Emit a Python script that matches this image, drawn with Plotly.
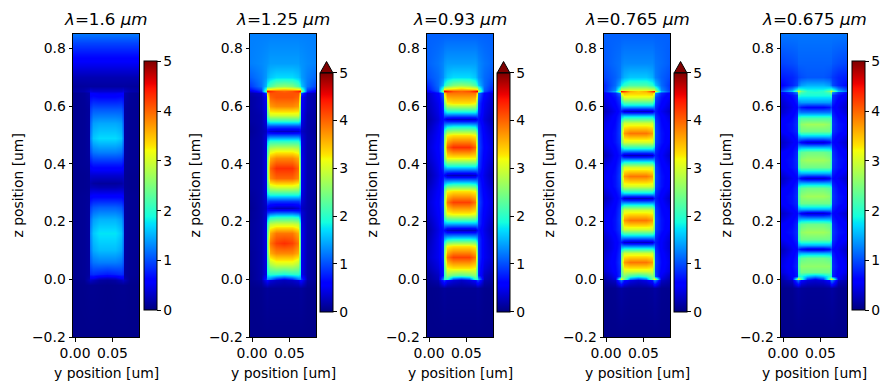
import plotly.graph_objects as go

TITLES = ["1.6", "1.25", "0.93", "0.765", "0.675"]
Y_POS = [-0.0027, 0.012, 0.0200, 0.0206, 0.0235, 0.032, 0.0425, 0.053, 0.0615, 0.0644, 0.065, 0.073, 0.0877]
TICK_Z = [-0.2, 0.0, 0.2, 0.4, 0.6, 0.8]
TICK_Y = [0.0, 0.05]
TICK_C = [0, 1, 2, 3, 4, 5]

# z position, then half of a row (outer edge -> ridge centre)
P1 = [
 (-.20,[.05,.05,.05,.05,.05,.05,.05]),(-.02,[.05,.06,.08,.08,.08,.07,.06]),(-.002,[.06,.08,.25,.3,.25,.15,.12]),
 (.003,[.06,.09,.2,.5,.5,.35,.3]),(.02,[.07,.1,.15,.8,.85,.8,.75]),(.06,[.07,.1,.15,1.05,1.2,1.25,1.25]),
 (.10,[.08,.1,.15,1.2,1.45,1.55,1.55]),(.16,[.08,.1,.15,1.3,1.6,1.75,1.75]),(.21,[.08,.1,.15,1.15,1.4,1.5,1.5]),
 (.25,[.08,.1,.14,.9,1.05,1.1,1.1]),(.29,[.08,.1,.12,.55,.6,.6,.6]),(.32,[.07,.08,.1,.25,.25,.22,.22]),
 (.335,[.07,.08,.1,.2,.15,.13,.13]),(.36,[.07,.08,.1,.35,.35,.35,.35]),(.40,[.08,.1,.12,.65,.75,.75,.75]),
 (.44,[.08,.1,.15,1.0,1.2,1.25,1.25]),(.49,[.08,.1,.15,1.25,1.6,1.7,1.7]),(.54,[.08,.1,.15,1.1,1.4,1.45,1.45]),
 (.59,[.08,.1,.14,.9,1.05,1.05,1.05]),(.645,[.08,.12,.2,.55,.55,.5,.5]),(.652,[.15,.2,.3,.4,.35,.35,.35]),
 (.67,[.12,.13,.14,.14,.14,.14,.14]),(.70,[.22,.22,.22,.22,.22,.22,.22]),(.74,[.45,.45,.45,.45,.45,.45,.45]),
 (.78,[.7,.7,.7,.7,.7,.7,.7]),(.82,[.95,.95,.95,.95,.95,.95,.95]),(.85,[1.2,1.2,1.2,1.2,1.2,1.2,1.2]),
]
P2 = [
 (-.20,[.05,.05,.05,.05,.05,.05,.05]),(-.03,[.05,.07,.12,.12,.1,.1,.1]),(-.003,[.08,.15,.6,.6,.4,.3,.25]),
 (.002,[.08,.2,.9,1.3,1.2,.8,.6]),(.02,[.08,.2,.5,1.8,2.0,2.0,1.9]),(.053,[.1,.2,.5,2.0,2.8,3.0,3.0]),
 (.09,[.1,.2,.5,2.2,3.6,3.8,3.8]),(.125,[.12,.2,.5,2.3,3.9,4.2,4.3]),(.16,[.12,.2,.5,2.2,3.6,3.9,3.9]),
 (.19,[.12,.2,.45,2.0,2.9,3.0,3.0]),(.215,[.1,.2,.4,1.4,1.9,2.0,2.0]),(.232,[.1,.2,.4,.8,.9,1.0,1.0]),
 (.247,[.08,.2,.3,.5,.35,.25,.25]),(.27,[.1,.2,.4,1.0,.9,.9,.9]),(.296,[.12,.2,.45,1.7,2.0,2.0,2.0]),
 (.319,[.15,.2,.5,2.1,2.9,3.0,3.0]),(.35,[.15,.2,.5,2.3,3.8,4.0,4.0]),(.385,[.15,.2,.5,2.4,4.0,4.3,4.3]),
 (.42,[.15,.2,.5,2.3,3.6,3.8,3.8]),(.451,[.15,.2,.45,2.0,2.9,3.0,3.0]),(.48,[.15,.2,.45,1.6,2.0,2.0,2.0]),
 (.50,[.12,.2,.4,.9,1.0,1.0,1.0]),(.515,[.1,.2,.3,.5,.35,.3,.3]),(.53,[.12,.2,.4,1.0,1.0,1.0,1.0]),
 (.55,[.15,.2,.45,1.7,2.0,2.0,2.0]),(.57,[.15,.2,.5,2.2,3.0,3.0,3.0]),(.60,[.15,.25,.55,2.5,3.7,3.8,3.8]),
 (.63,[.15,.25,.6,2.9,4.0,4.1,4.1]),(.646,[.2,.3,1.0,3.4,4.1,4.1,4.1]),(.652,[.4,.8,2.8,4.5,4.3,4.1,4.0]),
 (.658,[.7,1.0,2.3,3.1,3.2,3.3,3.4]),(.67,[.9,1.2,1.6,1.9,2.2,2.5,2.6]),(.70,[1.1,1.25,1.4,1.5,1.6,1.7,1.7]),
 (.75,[1.25,1.3,1.35,1.35,1.4,1.4,1.4]),(.85,[1.25,1.25,1.25,1.25,1.25,1.25,1.25]),
]
P3 = [
 (-.20,[.05,.05,.05,.05,.05,.05,.05]),(-.03,[.05,.07,.12,.12,.1,.1,.1]),(-.003,[.1,.2,.9,.9,.55,.4,.3]),
 (.002,[.1,.25,1.5,2,2,1,.8]),(.015,[.12,.3,.8,2.0,2.6,2.4,2.3]),(.04,[.2,.4,.8,2.2,3.2,3.3,3.3]),
 (.078,[.3,.5,.9,2.5,3.9,4.2,4.2]),(.115,[.25,.5,.9,2.3,3.2,3.3,3.3]),(.14,[.2,.5,.9,1.5,1.8,1.9,1.9]),
 (.171,[.15,.45,.7,.6,.3,.25,.25]),(.195,[.2,.5,.9,1.5,1.6,1.6,1.6]),(.225,[.3,.55,.9,2.4,3.1,3.2,3.2]),
 (.267,[.35,.6,1,2.6,3.9,4.2,4.2]),(.305,[.3,.55,.9,2.4,3.2,3.3,3.3]),(.335,[.2,.5,.85,1.5,1.7,1.8,1.8]),
 (.362,[.15,.45,.7,.6,.3,.25,.25]),(.39,[.2,.5,.9,1.5,1.7,1.7,1.7]),(.42,[.3,.55,.95,2.4,3.2,3.2,3.2]),
 (.46,[.35,.6,1,2.6,4,4.3,4.3]),(.50,[.3,.55,.95,2.4,3.2,3.3,3.3]),(.53,[.2,.5,.85,1.4,1.7,1.8,1.8]),
 (.555,[.15,.4,.7,.6,.35,.3,.3]),(.58,[.2,.45,.85,1.5,1.8,1.8,1.8]),(.61,[.25,.5,.9,2.4,3.2,3.3,3.3]),
 (.645,[.3,.6,1.2,3.3,3.9,3.9,3.9]),(.651,[.5,1,3,4.6,4.4,4.1,4.0]),(.658,[.7,1.1,2.5,3.2,3.3,3.4,3.5]),
 (.672,[.8,1.15,1.6,1.9,2.2,2.5,2.6]),(.70,[1,1.15,1.35,1.45,1.6,1.7,1.7]),(.75,[1.1,1.2,1.3,1.35,1.4,1.4,1.4]),
 (.85,[1.1,1.1,1.1,1.1,1.1,1.1,1.1]),
]
P4 = [
 (-.20,[.05,.05,.05,.05,.05,.05,.05]),(-.03,[.06,.08,.15,.15,.12,.1,.1]),(-.003,[.15,.3,1.2,1.2,.7,.45,.35]),
 (.002,[.15,.4,2.8,3.2,2.4,1.2,.9]),(.012,[.2,.5,1.0,2.2,2.5,2.1,1.9]),(.03,[.35,.6,.9,2.3,3.0,3.0,3.0]),
 (.059,[.4,.65,.95,2.5,3.7,3.9,3.9]),(.09,[.35,.6,.9,2.3,3.0,3.0,3.0]),(.11,[.3,.55,.85,1.6,1.8,1.8,1.8]),
 (.13,[.3,.55,.75,.7,.35,.3,.3]),(.15,[.35,.6,.85,1.5,1.6,1.6,1.6]),(.175,[.45,.7,.95,2.4,3.0,3.0,3.0]),
 (.207,[.5,.7,1,2.5,3.7,3.9,3.9]),(.24,[.45,.65,.95,2.3,3.0,3.0,3.0]),(.26,[.35,.6,.85,1.5,1.7,1.7,1.7]),
 (.28,[.25,.55,.75,.7,.3,.25,.25]),(.30,[.35,.6,.85,1.5,1.7,1.7,1.7]),(.325,[.45,.7,.95,2.4,3.0,3.0,3.0]),
 (.357,[.5,.7,1,2.5,3.7,3.9,3.9]),(.39,[.45,.65,.95,2.3,3.0,3.0,3.0]),(.41,[.35,.6,.85,1.5,1.7,1.7,1.7]),
 (.43,[.25,.55,.75,.7,.3,.25,.25]),(.45,[.35,.6,.85,1.5,1.7,1.7,1.7]),(.475,[.45,.7,.95,2.4,3.0,3.0,3.0]),
 (.506,[.5,.7,1,2.5,3.7,3.9,3.9]),(.54,[.45,.65,.95,2.3,3.0,3.0,3.0]),(.565,[.35,.6,.85,1.5,1.7,1.7,1.7]),
 (.584,[.25,.5,.75,.7,.35,.3,.3]),(.605,[.35,.6,.85,1.5,1.8,1.8,1.8]),(.63,[.45,.7,1.0,2.4,3.1,3.1,3.1]),
 (.645,[.5,.8,1.3,3.2,3.5,3.4,3.4]),(.651,[.8,1.5,3.2,4.5,4.2,3.6,3.4]),(.657,[.8,1.3,2.6,3.0,3.0,3.1,3.1]),
 (.672,[.8,1.15,1.6,1.8,2.0,2.2,2.2]),(.70,[.95,1.1,1.25,1.35,1.5,1.6,1.6]),(.75,[1.05,1.15,1.2,1.25,1.3,1.3,1.3]),
 (.85,[1.1,1.1,1.1,1.1,1.1,1.1,1.1]),
]
P5 = [
 (-.20,[.05,.05,.05,.05,.05,.05,.05]),(-.03,[.06,.08,.15,.15,.12,.1,.1]),(-.003,[.15,.3,1.2,1.2,.6,.4,.35]),
 (.002,[.2,.5,2.8,3.1,2.2,.9,.6]),(.012,[.25,.55,.8,1.8,1.9,1.6,1.4]),(.025,[.4,.6,.8,2.0,2.4,2.4,2.4]),
 (.047,[.45,.65,.85,2.1,2.6,2.6,2.6]),(.075,[.4,.6,.8,2.0,2.3,2.4,2.4]),(.09,[.3,.55,.75,1.4,1.5,1.5,1.5]),
 (.105,[.25,.5,.65,.85,.55,.4,.4]),(.12,[.35,.55,.75,1.4,1.5,1.5,1.5]),(.14,[.5,.65,.85,2.0,2.4,2.4,2.4]),
 (.163,[.6,.7,.9,2.1,2.6,2.7,2.7]),(.19,[.55,.65,.85,2.0,2.3,2.4,2.4]),(.21,[.4,.6,.75,1.4,1.5,1.5,1.5]),
 (.229,[.3,.5,.65,.85,.5,.35,.35]),(.245,[.4,.6,.75,1.4,1.5,1.5,1.5]),(.265,[.55,.7,.85,2.0,2.4,2.4,2.4]),
 (.288,[.6,.7,.9,2.1,2.6,2.7,2.7]),(.315,[.5,.65,.85,2.0,2.3,2.4,2.4]),(.335,[.35,.6,.75,1.4,1.5,1.5,1.5]),
 (.351,[.3,.5,.65,.85,.5,.35,.35]),(.37,[.4,.6,.75,1.4,1.5,1.5,1.5]),(.39,[.55,.7,.85,2.0,2.4,2.4,2.4]),
 (.413,[.6,.7,.9,2.1,2.6,2.7,2.7]),(.44,[.55,.65,.85,2.0,2.3,2.4,2.4]),(.46,[.35,.6,.75,1.4,1.5,1.5,1.5]),
 (.475,[.3,.5,.65,.85,.55,.4,.4]),(.495,[.4,.6,.75,1.4,1.6,1.6,1.6]),(.515,[.55,.7,.85,2.0,2.4,2.4,2.4]),
 (.538,[.6,.7,.9,2.1,2.6,2.7,2.7]),(.56,[.5,.65,.85,2.0,2.2,2.2,2.2]),(.58,[.35,.55,.75,1.3,1.2,1.2,1.2]),
 (.596,[.3,.5,.65,.9,.7,.6,.6]),(.615,[.35,.55,.8,1.3,1.4,1.4,1.4]),(.64,[.45,.7,.9,2.0,1.9,1.9,1.9]),
 (.648,[.6,.9,1.4,2.6,2.2,2.0,2.0]),(.652,[1.0,1.6,2.6,3.1,2.4,2.0,1.9]),(.658,[.8,1.3,1.9,2.0,1.9,1.8,1.8]),
 (.672,[.6,.8,1.0,1.2,1.4,1.5,1.5]),(.70,[.75,.8,.9,.95,1.0,1.05,1.05]),(.75,[.95,1.0,1.05,1.1,1.1,1.1,1.1]),
 (.85,[1.2,1.2,1.2,1.2,1.2,1.2,1.2]),
]
PANELS = [P1, P2, P3, P4, P5]

JET = [[0,"rgb(0,0,127)"],[.11,"rgb(0,0,255)"],[.125,"rgb(0,0,255)"],[.34,"rgb(0,219,255)"],[.35,"rgb(0,229,247)"],
       [.375,"rgb(20,255,222)"],[.64,"rgb(245,255,10)"],[.65,"rgb(250,241,0)"],[.66,"rgb(255,227,0)"],
       [.89,"rgb(255,18,0)"],[.91,"rgb(237,0,0)"],[1,"rgb(127,0,0)"]]

W, H = 892, 390
AX_L = [73, 250, 427, 604, 781]
AX_W = 66
CB_L = [144.3, 320.3, 497.3, 674.3, 852.3]
CB_ARROW = [False, True, True, True, False]
FONT = "DejaVu Sans"

fig = go.Figure()
shapes, annos = [], []
lab = dict(family=FONT, size=13.9, color="black")
for i, rows in enumerate(PANELS):
    n = "" if i == 0 else str(i + 1)
    z_pos = [r[0] for r in rows]
    vals = [r[1] + r[1][-2::-1] for r in rows]
    arrow = CB_ARROW[i]
    cb_top, cb_bot = (72.7, 311.7) if arrow else (61.3, 310.3)
    fig.add_trace(go.Heatmap(
        x=Y_POS, y=z_pos, z=vals, zmin=0, zmax=5, colorscale=JET, zsmooth="best",
        xaxis="x" + n, yaxis="y" + n,
        colorbar=dict(x=CB_L[i] / W, xanchor="left", xpad=0, ypad=0, thickness=12.5, thicknessmode="pixels",
                      y=1 - cb_bot / H, yanchor="bottom", len=(cb_bot - cb_top) / H, lenmode="fraction",
                      outlinecolor="black", outlinewidth=1, tickmode="array", tickvals=TICK_C, ticktext=[str(t) for t in TICK_C],
                      ticks="outside", ticklen=3.5, tickwidth=1, tickcolor="black", tickfont=lab),
    ))
    common = dict(showgrid=False, zeroline=False, showline=True, linecolor="black", linewidth=1, mirror=True,
                  ticks="outside", ticklen=3.5, tickwidth=1, tickcolor="black", tickfont=lab, automargin=False)
    fig.layout["xaxis" + n] = dict(common, domain=[AX_L[i] / W, (AX_L[i] + AX_W) / W], range=[-0.0027, 0.0856],
                                   tickvals=TICK_Y, tickformat=".2f", anchor="y" + n)
    fig.layout["yaxis" + n] = dict(common, domain=[1 - 337 / H, 1 - 34 / H], range=[-0.2, 0.85],
                                   tickvals=TICK_Z, tickformat=".1f", anchor="x" + n)
    cx = AX_L[i] + AX_W / 2
    annos.append(dict(xref="paper", yref="paper", x=cx / W, y=1 - 372.5 / H, xanchor="center", yanchor="middle",
                      showarrow=False, text="y position [um]", font=lab))
    annos.append(dict(xref="paper", yref="paper", x=(AX_L[i] - 56) / W, y=1 - 185.5 / H, xanchor="center", yanchor="middle",
                      showarrow=False, text="z position [um]", font=lab, textangle=-90))
    annos.append(dict(xref="paper", yref="paper", x=cx / W, y=1 - 31 / H, xanchor="center", yanchor="bottom",
                      showarrow=False, text=f"<i>λ</i>={TITLES[i]} <i>μm</i>", font=dict(family=FONT, size=16.7, color="black")))
    if arrow:
        x0, x1 = CB_L[i] / W, (CB_L[i] + 12.5) / W
        shapes.append(dict(type="path", xref="paper", yref="paper",
                           path=f"M {x0} {1 - cb_top / H} L {(x0 + x1) / 2} {1 - 61.5 / H} L {x1} {1 - cb_top / H} Z",
                           fillcolor="rgb(127,0,0)", line=dict(color="black", width=1)))

fig.update_layout(width=W, height=H, autosize=False, margin=dict(l=0, r=0, t=0, b=0, pad=0, autoexpand=False),
                  paper_bgcolor="white", plot_bgcolor="rgb(0,0,170)", shapes=shapes, annotations=annos,
                  font=dict(family=FONT, color="black"))
fig.write_html("out.html", post_script="document.body.style.margin='0';", config={"displayModeBar": False})
